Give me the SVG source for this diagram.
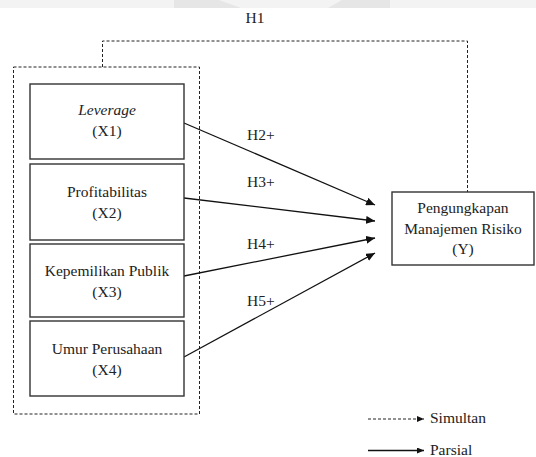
<svg xmlns="http://www.w3.org/2000/svg" width="536" height="457" viewBox="0 0 536 457" font-family="'Liberation Serif', 'Times New Roman', 'DejaVu Serif', serif">
<style>
  .box { fill: #ffffff; stroke: #333333; stroke-width: 1.4; }
  .dash { fill: none; stroke: #222222; stroke-width: 1; stroke-dasharray: 3 2; }
  .arrow { fill: none; stroke: #111111; stroke-width: 1.3; }
  text { font-family: 'Liberation Serif', 'Times New Roman', 'DejaVu Serif', serif; font-size: 15.5px; fill: #222222; }
  .c { text-anchor: middle; }
</style>
<defs>
  <marker id="ah" markerWidth="10" markerHeight="8" refX="9" refY="4" orient="auto" markerUnits="userSpaceOnUse">
    <path d="M0,0 L9,4 L0,8 Z" fill="#111111"/>
  </marker>
  <marker id="ahs" markerWidth="8" markerHeight="6" refX="7" refY="3" orient="auto" markerUnits="userSpaceOnUse">
    <path d="M0,0 L7,3 L0,6 Z" fill="#111111"/>
  </marker>
</defs>
<rect x="0" y="0" width="536" height="457" fill="#ffffff"/>
<g id="watermark">
  <rect x="0" y="0" width="536" height="8" fill="#f3f3f3"/>
  <polygon points="174,0 219,0 241,8 174,8" fill="#e6e6e6"/>
  <polygon points="342,0 390,0 390,8 328,8" fill="#e6e6e6"/>
</g>
<g id="connectors">
  <rect id="group-box" class="dash" x="13.5" y="67" width="186" height="347"/>
  <polyline id="h1" class="dash" points="102.5,67 102.5,41 467.5,41 467.5,192"/>
  <line class="arrow" x1="184" y1="123" x2="375" y2="205" marker-end="url(#ah)"/>
  <line class="arrow" x1="184" y1="198" x2="375" y2="221" marker-end="url(#ah)"/>
  <line class="arrow" x1="184" y1="276" x2="375" y2="238" marker-end="url(#ah)"/>
  <line class="arrow" x1="184" y1="357" x2="375" y2="253" marker-end="url(#ah)"/>
  <text x="255" y="23" class="c">H1</text>
  <text x="247" y="140">H2+</text>
  <text x="247" y="187">H3+</text>
  <text x="247" y="249">H4+</text>
  <text x="247" y="306">H5+</text>
</g>
<g id="x1">
  <rect class="box" x="30" y="84" width="154" height="75"/>
  <text x="107" y="115" class="c" font-style="italic">Leverage</text>
  <text x="107" y="136" class="c">(X1)</text>
</g>
<g id="x2">
  <rect class="box" x="30" y="164" width="154" height="76"/>
  <text x="107" y="197" class="c">Profitabilitas</text>
  <text x="107" y="218" class="c">(X2)</text>
</g>
<g id="x3">
  <rect class="box" x="30" y="244" width="154" height="73"/>
  <text x="107" y="276" class="c">Kepemilikan Publik</text>
  <text x="107" y="297" class="c">(X3)</text>
</g>
<g id="x4">
  <rect class="box" x="30" y="321" width="154" height="75"/>
  <text x="107" y="354" class="c">Umur Perusahaan</text>
  <text x="107" y="375" class="c">(X4)</text>
</g>
<g id="y">
  <rect class="box" x="392" y="192" width="142" height="73"/>
  <text x="463" y="213" class="c">Pengungkapan</text>
  <text x="463" y="233.5" class="c">Manajemen Risiko</text>
  <text x="463" y="254" class="c">(Y)</text>
</g>
<g id="legend">
  <line class="dash" x1="368" y1="419" x2="424" y2="419" marker-end="url(#ahs)"/>
  <text x="430" y="423">Simultan</text>
  <line class="arrow" x1="368" y1="450.5" x2="424" y2="450.5" marker-end="url(#ahs)"/>
  <text x="430" y="455">Parsial</text>
</g>
</svg>
